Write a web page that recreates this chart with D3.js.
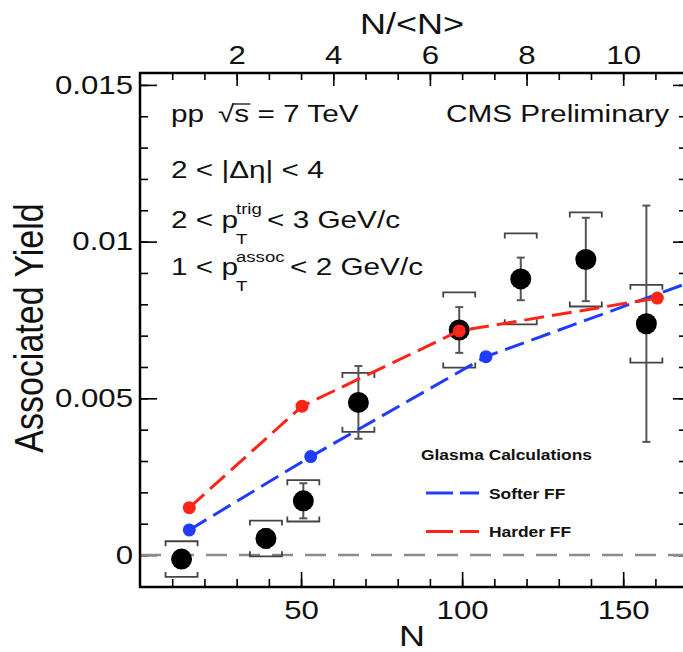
<!DOCTYPE html>
<html>
<head>
<meta charset="utf-8">
<script src="https://cdn.jsdelivr.net/npm/d3@7"></script>
<style>
  body { margin: 0; background: #fff; }
  svg { display: block; font-family: "Liberation Sans", Arial, Helvetica, sans-serif; }
</style>
</head>
<body>
<div id="chart"></div>
<script>
// measured points: multiplicity N vs associated yield
const multN    = [12.9, 39.1, 50.7, 67.8, 99.1, 118.2, 138.4, 157.2];
const yieldVal = [-0.00013, 0.00053, 0.00173, 0.00487, 0.00718, 0.00881, 0.00943, 0.00738];
const statErr  = [0.0002, 0.0003, 0.00056, 0.00116, 0.00073, 0.00068, 0.00133, 0.00377];
const sysErr   = [0.00057, 0.00057, 0.00066, 0.00094, 0.0012, 0.00145, 0.0015, 0.00124];

// glasma calculations
const softerN = [15.3, 53.0, 107.4, 172];
const softerY = [0.0008, 0.00314, 0.00633, 0.00875];
const harderN = [15.3, 50.3, 99.1, 160.6];
const harderY = [0.00151, 0.00475, 0.00715, 0.0082];

// axis ticks
const nTicks = [50, 100, 150];
const nTickLabels = ["50", "100", "150"];
const yTicks = [0, 0.005, 0.01, 0.015];
const yTickLabels = ["0", "0.005", "0.01", "0.015"];
const ratioTicks = [2, 4, 6, 8, 10];
const ratioTickLabels = ["2", "4", "6", "8", "10"];
const meanN = 15;

// constants
const width = 683, height = 652;
const pLeft = 140, pRight = 686, pTop = 73, pBottom = 587;
const SX = 1.2;   // text in the source is stretched sideways
const SXT = 1.24; // a bit more for the annotations

const x = d3.scaleLinear().domain([0, 169.5]).range([pLeft, pRight]);
const xTop = d3.scaleLinear().domain([0, 169.5 / meanN]).range([pLeft, pRight]);
const y = d3.scaleLinear().domain([-0.00102, 0.01538]).range([pBottom, pTop]);

const svg = d3.select("#chart")
  .append("svg")
  .attr("width", width)
  .attr("height", height);

svg.append("clipPath").attr("id", "plot")
  .append("rect")
  .attr("x", pLeft).attr("y", pTop)
  .attr("width", pRight - pLeft).attr("height", pBottom - pTop);

// axes: ticks point inward, frame drawn separately
function fixAxis(g, fontSize) {
  g.attr("font-family", null).attr("font-size", fontSize);
  g.select(".domain").remove();
  g.selectAll("line").attr("stroke", "#000").attr("stroke-width", 1.6);
  g.selectAll("text").attr("fill", "#111");
}

const yMinor = d3.range(-1, 16).map(d => d / 1000);
const nMinor = d3.range(10, 170, 10);
const ratioMinor = d3.range(1, 17).map(k => k * 2 / 3).filter(d => d < 11.3);

svg.append("g").attr("transform", `translate(0,${pBottom})`)
  .call(d3.axisBottom(x).tickValues(nMinor).tickSize(-8).tickFormat(""))
  .call(g => fixAxis(g, 26));
svg.append("g").attr("transform", `translate(0,${pBottom})`)
  .call(d3.axisBottom(x).tickValues(nTicks).tickSize(-15).tickPadding(14)
    .tickFormat((d, i) => nTickLabels[i]))
  .call(g => fixAxis(g, 26))
  .call(g => g.selectAll("text").attr("transform", `scale(${SX},1)`));

svg.append("g").attr("transform", `translate(0,${pTop})`)
  .call(d3.axisTop(xTop).tickValues(ratioMinor).tickSize(-7).tickFormat(""))
  .call(g => fixAxis(g, 26));
svg.append("g").attr("transform", `translate(0,${pTop})`)
  .call(d3.axisTop(xTop).tickValues(ratioTicks).tickSize(-13).tickPadding(9)
    .tickFormat((d, i) => ratioTickLabels[i]))
  .call(g => fixAxis(g, 26))
  .call(g => g.selectAll("text").attr("transform", `scale(${SX},1)`));

svg.append("g").attr("transform", `translate(${pLeft},0)`)
  .call(d3.axisLeft(y).tickValues(yMinor).tickSize(-8).tickFormat(""))
  .call(g => fixAxis(g, 26));
svg.append("g").attr("transform", `translate(${pLeft},0)`)
  .call(d3.axisLeft(y).tickValues(yTicks).tickSize(-17).tickPadding(7)
    .tickFormat((d, i) => yTickLabels[i]))
  .call(g => fixAxis(g, 26))
  .call(g => g.selectAll("text").attr("x", -7 / SX).attr("transform", `scale(${SX},1)`));

svg.append("g").attr("transform", `translate(${pRight},0)`)
  .call(d3.axisRight(y).tickValues(yMinor).tickSize(-7).tickFormat(""))
  .call(g => fixAxis(g, 26));
svg.append("g").attr("transform", `translate(${pRight},0)`)
  .call(d3.axisRight(y).tickValues(yTicks).tickSize(-13).tickFormat(""))
  .call(g => fixAxis(g, 26));

// plot contents
const plot = svg.append("g").attr("clip-path", "url(#plot)");

plot.append("line")
  .attr("x1", pLeft).attr("x2", pRight)
  .attr("y1", y(0)).attr("y2", y(0))
  .attr("stroke", "#8c8c8c").attr("stroke-width", 2.6)
  .attr("stroke-dasharray", "21 12");

const pts = multN.map((n, i) => ({n: n, v: yieldVal[i], stat: statErr[i], sys: sysErr[i]}));

// systematic brackets
const bw = 16, hook = 5;
pts.forEach(d => {
  const cx = x(d.n), yt = y(d.v + d.sys), yb = y(d.v - d.sys);
  plot.append("path")
    .attr("d", `M${cx - bw},${yt + hook}V${yt}H${cx + bw}V${yt + hook}`)
    .attr("fill", "none").attr("stroke", "#444").attr("stroke-width", 1.8);
  plot.append("path")
    .attr("d", `M${cx - bw},${yb - hook}V${yb}H${cx + bw}V${yb - hook}`)
    .attr("fill", "none").attr("stroke", "#444").attr("stroke-width", 1.8);
});

// statistical error bars
const stat = plot.selectAll(".stat").data(pts).enter().append("g");
stat.append("line")
  .attr("x1", d => x(d.n)).attr("x2", d => x(d.n))
  .attr("y1", d => y(d.v + d.stat)).attr("y2", d => y(d.v - d.stat))
  .attr("stroke", "#555").attr("stroke-width", 2);
stat.append("line")
  .attr("x1", d => x(d.n) - 4).attr("x2", d => x(d.n) + 4)
  .attr("y1", d => y(d.v + d.stat)).attr("y2", d => y(d.v + d.stat))
  .attr("stroke", "#555").attr("stroke-width", 2);
stat.append("line")
  .attr("x1", d => x(d.n) - 4).attr("x2", d => x(d.n) + 4)
  .attr("y1", d => y(d.v - d.stat)).attr("y2", d => y(d.v - d.stat))
  .attr("stroke", "#555").attr("stroke-width", 2);

plot.selectAll(".pt").data(pts).enter().append("circle")
  .attr("cx", d => x(d.n)).attr("cy", d => y(d.v))
  .attr("r", 10.5).attr("fill", "#000");

// curves
const line = d3.line().x(d => x(d[0])).y(d => y(d[1]));
function curve(ns, vs, color) {
  const data = ns.map((n, i) => [n, vs[i]]);
  plot.append("path").datum(data)
    .attr("d", line)
    .attr("fill", "none").attr("stroke", color).attr("stroke-width", 3)
    .attr("stroke-dasharray", "20 8");
  plot.selectAll(null).data(data).enter().append("circle")
    .attr("cx", d => x(d[0])).attr("cy", d => y(d[1]))
    .attr("r", 6.5).attr("fill", color);
}
curve(softerN, softerY, "#1f3cff");
curve(harderN, harderY, "#ff2418");

// frame
svg.append("rect")
  .attr("x", pLeft).attr("y", pTop)
  .attr("width", pRight - pLeft).attr("height", pBottom - pTop)
  .attr("fill", "none").attr("stroke", "#000").attr("stroke-width", 2.5);

// texts
function addText(x0, y0, str, size, opts = {}) {
  const g = svg.append("g").attr("transform", `translate(${x0},${y0}) scale(${opts.sx || SX},1)`);
  const t = g.append("text")
    .attr("font-size", size)
    .attr("text-anchor", opts.anchor || "start")
    .attr("font-weight", opts.weight || null)
    .attr("fill", "#111")
    .style("white-space", "pre")
    .text(str);
  return {g: g, t: t};
}

addText(412, 34, "N/<N>", 30, {anchor: "middle"});
addText(412, 646, "N", 30, {anchor: "middle"});

svg.append("text")
  .attr("transform", `translate(43,328) scale(${SX},1) rotate(-90)`)
  .attr("text-anchor", "middle")
  .attr("font-size", 34)
  .attr("fill", "#111")
  .text("Associated Yield");

const ann = {sx: SXT};
addText(171, 122, "pp", 24, ann);
const rs = addText(218, 122, "\u221As = 7 TeV", 24, ann);
{
  const node = rs.t.node();
  const x1 = node.getStartPositionOfChar(1).x;
  const x2 = node.getEndPositionOfChar(1).x;
  rs.g.append("line")
    .attr("x1", x1 - 1).attr("x2", x2 + 1)
    .attr("y1", -18).attr("y2", -18)
    .attr("stroke", "#111").attr("stroke-width", 1.3);
}
addText(446, 122, "CMS Preliminary", 24, ann);

addText(171, 178, "2 < |\u0394\u03B7| < 4", 24, ann);

addText(171, 228, "2 < p", 24, ann);
addText(236, 214, "trig", 15, ann);
addText(236, 244, "T", 15, ann);
addText(267, 228, "< 3 GeV/c", 24, ann);

addText(171, 275, "1 < p", 24, ann);
addText(236, 262, "assoc", 15, ann);
addText(236, 291, "T", 15, ann);
addText(290, 275, "< 2 GeV/c", 24, ann);

// legend
addText(421, 460, "Glasma Calculations", 14.5, {weight: "bold"});
svg.append("line")
  .attr("x1", 426).attr("x2", 479).attr("y1", 493).attr("y2", 493)
  .attr("stroke", "#1f3cff").attr("stroke-width", 3).attr("stroke-dasharray", "27 7");
addText(489, 498.5, "Softer FF", 14.5, {weight: "bold"});
svg.append("line")
  .attr("x1", 426).attr("x2", 479).attr("y1", 531.5).attr("y2", 531.5)
  .attr("stroke", "#ff2418").attr("stroke-width", 3).attr("stroke-dasharray", "27 7");
addText(489, 537, "Harder FF", 14.5, {weight: "bold"});
</script>
</body>
</html>
